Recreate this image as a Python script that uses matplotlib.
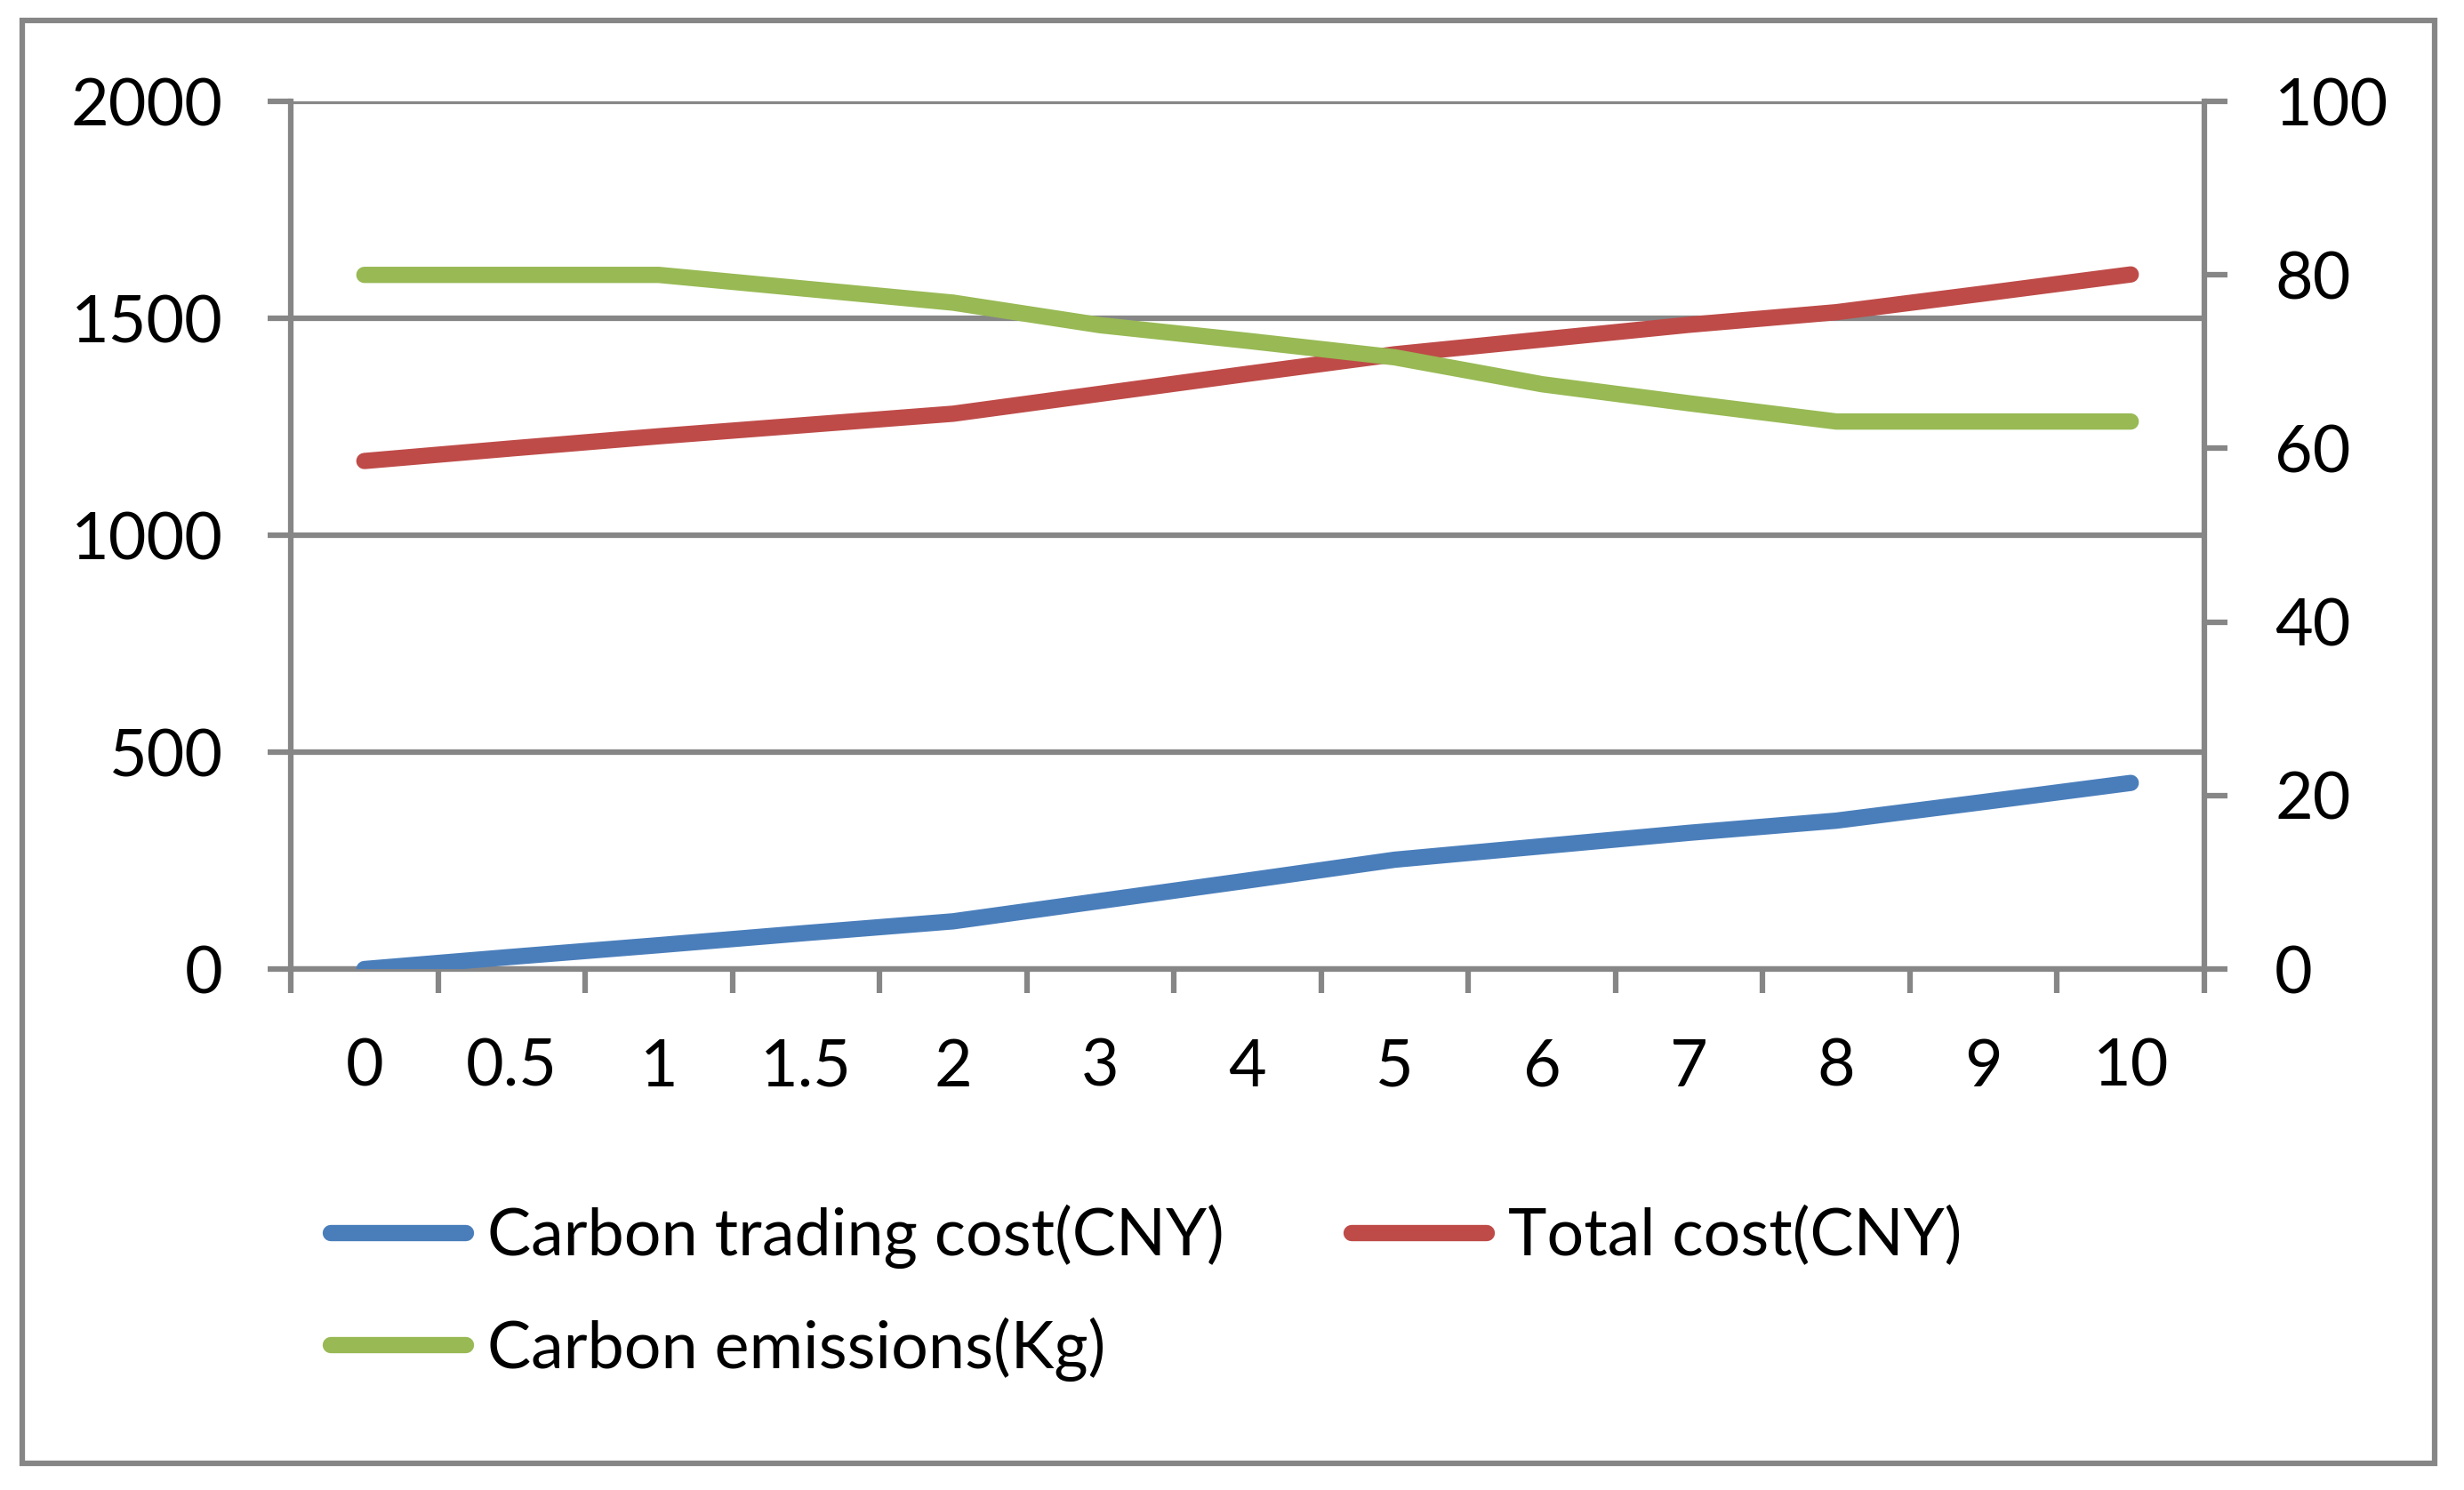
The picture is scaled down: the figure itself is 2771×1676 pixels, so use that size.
import matplotlib
matplotlib.use("Agg")
import matplotlib.pyplot as plt
from matplotlib.patches import Rectangle
from matplotlib.lines import Line2D

plt.rcParams["font.family"] = ["Lato", "DejaVu Sans"]

# data
categories = ["0", "0.5", "1", "1.5", "2", "3", "4", "5", "6", "7", "8", "9", "10"]
trading_cost = [0, 28, 55, 83, 110, 157, 204, 252, 283, 314, 342, 385, 429]
total_cost = [1171, 1200, 1228, 1254, 1280, 1326, 1372, 1417, 1451, 1485, 1514, 1557, 1601]
emissions = [80, 80, 80, 78.4, 76.8, 74.2, 72.4, 70.5, 67.4, 65.2, 63.1, 63.1, 63.1]

left_ticks = [0, 500, 1000, 1500, 2000]
right_ticks = [0, 20, 40, 60, 80, 100]

BLUE = "#4A7EBB"
RED = "#BE4B48"
GREEN = "#98B954"
GRAY = "#868686"
FS = 53
LW = 13.2

W, H = 2771, 1676
fig = plt.figure(figsize=(W / 100, H / 100), dpi=100)
ax = fig.add_axes([327 / W, 1 - 1090 / H, (2479 - 327) / W, (1090 - 114) / H])
ax2 = ax.twinx()

x = list(range(len(categories)))
l1, = ax.plot(x, trading_cost, color=BLUE, lw=LW, solid_capstyle="round",
              solid_joinstyle="round", zorder=3)
l2, = ax.plot(x, total_cost, color=RED, lw=LW, solid_capstyle="round",
              solid_joinstyle="round", zorder=3)
l3, = ax2.plot(x, emissions, color=GREEN, lw=LW, solid_capstyle="round",
               solid_joinstyle="round", zorder=3)

ax.set_xlim(-0.5, len(categories) - 0.5)
ax.set_ylim(0, 2000)
ax2.set_ylim(0, 100)

# category axis: labels centred, tick marks between categories
ax.set_xticks(x)
ax.set_xticklabels(categories)
ax.set_xticks([i - 0.5 for i in range(len(categories) + 1)], minor=True)
ax.tick_params(axis="x", which="major", length=0, pad=56, labelsize=FS)
ax.tick_params(axis="x", which="minor", length=19.5, width=4.5, color=GRAY,
               direction="out")

ax.set_yticks(left_ticks)
ax.tick_params(axis="y", length=19, width=4.5, color=GRAY, pad=36, labelsize=FS)
ax.grid(axis="y", color=GRAY, lw=4.5)
ax.set_axisbelow(True)

ax2.set_yticks(right_ticks)
ax2.tick_params(axis="y", length=19, width=4.5, color=GRAY, pad=38, labelsize=FS)

for a in (ax, ax2):
    a.spines["top"].set_visible(False)
    for side in ("left", "right", "bottom"):
        a.spines[side].set_color(GRAY)
        a.spines[side].set_linewidth(4.5)
ax.spines["right"].set_visible(False)
ax2.spines["left"].set_visible(False)
ax2.spines["bottom"].set_visible(False)

# legend below the plot: blue, red on the first row, green on the second
handles = [l1, l3, l2]
labels = ["Carbon trading cost(CNY)", "Carbon emissions(Kg)", "Total cost(CNY)"]
leg_handles = [Line2D([0], [0], color=h.get_color(), lw=LW, solid_capstyle="round")
               for h in handles]
fig.legend(leg_handles, labels, loc="upper left",
           bbox_to_anchor=(372 / W, 1 - 1355 / H), ncol=2, frameon=False,
           fontsize=FS, handlelength=2.06, handletextpad=0.33,
           columnspacing=1.95, labelspacing=0.74, borderpad=0, borderaxespad=0)

fig.add_artist(Rectangle((25 / W, 1 - 1646 / H), (2738 - 25) / W, (1646 - 23) / H,
                         transform=fig.transFigure, fill=False, ec=GRAY, lw=4.5))

fig.savefig("out.png", dpi=100, facecolor="white")
